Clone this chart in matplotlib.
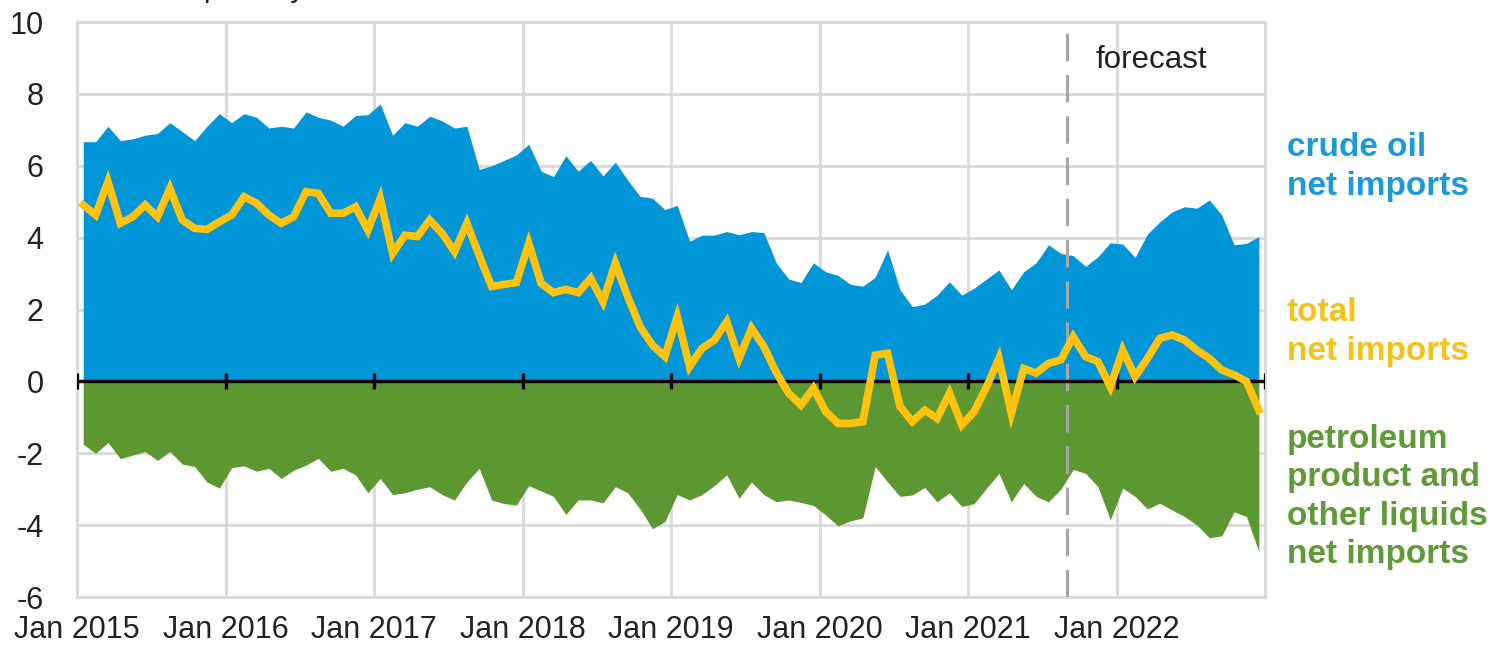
import numpy as np
import matplotlib
matplotlib.use("Agg")
import matplotlib.pyplot as plt

plt.rcParams["font.family"] = ["Liberation Sans", "DejaVu Sans"]
plt.rcParams["axes.unicode_minus"] = False

# monthly values, Jan 2015 - Dec 2022, million barrels per day
crude_net = [
    6.67, 6.67, 7.10, 6.70, 6.75, 6.85, 6.90, 7.20, 6.95, 6.70, 7.10, 7.45,
    7.20, 7.45, 7.35, 7.05, 7.10, 7.05, 7.50, 7.35, 7.27, 7.10, 7.40, 7.42,
    7.72, 6.85, 7.20, 7.10, 7.38, 7.25, 7.05, 7.10, 5.90, 6.00, 6.15, 6.30,
    6.60, 5.85, 5.70, 6.28, 5.85, 6.15, 5.72, 6.10, 5.60, 5.15, 5.10, 4.78,
    4.90, 3.90, 4.07, 4.07, 4.17, 4.08, 4.17, 4.14, 3.30, 2.85, 2.75, 3.30,
    3.05, 2.95, 2.70, 2.65, 2.90, 3.66, 2.55, 2.08, 2.15, 2.40, 2.77, 2.40,
    2.60, 2.85, 3.10, 2.55, 3.05, 3.30, 3.80, 3.56, 3.50, 3.20, 3.47, 3.86,
    3.82, 3.45, 4.10, 4.44, 4.72, 4.86, 4.82, 5.05, 4.63, 3.80, 3.84, 4.03,
]
product_net = [
    -1.75, -2.00, -1.70, -2.15, -2.05, -1.95, -2.20, -1.95, -2.30, -2.37, -2.80, -2.97,
    -2.40, -2.35, -2.50, -2.42, -2.70, -2.47, -2.33, -2.14, -2.50, -2.42, -2.60, -3.10,
    -2.70, -3.15, -3.10, -3.00, -2.93, -3.15, -3.30, -2.80, -2.42, -3.30, -3.40, -3.44,
    -2.90, -3.05, -3.20, -3.70, -3.30, -3.30, -3.38, -2.93, -3.10, -3.55, -4.10, -3.90,
    -3.15, -3.30, -3.15, -2.90, -2.60, -3.25, -2.80, -3.15, -3.35, -3.30, -3.37, -3.45,
    -3.72, -4.02, -3.88, -3.80, -2.37, -2.80, -3.20, -3.16, -2.95, -3.35, -3.10, -3.48,
    -3.40, -2.97, -2.56, -3.35, -2.84, -3.20, -3.35, -3.00, -2.45, -2.56, -2.93, -3.85,
    -2.97, -3.20, -3.55, -3.39, -3.58, -3.76, -4.00, -4.35, -4.30, -3.63, -3.76, -4.74,
]
total_net = [
    4.91, 4.63, 5.56, 4.40, 4.58, 4.91, 4.58, 5.37, 4.49, 4.26, 4.23, 4.44,
    4.63, 5.14, 4.96, 4.63, 4.40, 4.58, 5.28, 5.23, 4.68, 4.68, 4.86, 4.21,
    5.09, 3.56, 4.07, 4.03, 4.49, 4.12, 3.61, 4.40, 3.50, 2.64, 2.70, 2.75,
    3.84, 2.73, 2.47, 2.56, 2.47, 2.87, 2.22, 3.29, 2.36, 1.52, 1.01, 0.69,
    1.80, 0.41, 0.92, 1.15, 1.66, 0.64, 1.48, 0.97, 0.25, -0.33, -0.66, -0.19,
    -0.84, -1.17, -1.17, -1.12, 0.73, 0.78, -0.70, -1.12, -0.80, -1.03, -0.33, -1.21,
    -0.84, -0.15, 0.64, -0.89, 0.36, 0.23, 0.50, 0.60, 1.24, 0.69, 0.55, -0.15,
    0.87, 0.13, 0.64, 1.20, 1.29, 1.15, 0.87, 0.64, 0.32, 0.18, 0.00, -0.80,
]
year_labels = ["Jan 2015", "Jan 2016", "Jan 2017", "Jan 2018",
               "Jan 2019", "Jan 2020", "Jan 2021", "Jan 2022"]
forecast_start = 80  # months after Jan 2015

BLUE = "#0096D7"
GREEN = "#5D9732"
GOLD = "#FFC20E"
GRID = "#D9D9D9"

x = np.arange(len(crude_net)) + 0.5
year_ticks = np.arange(0, 97, 12)

fig = plt.figure(figsize=(14.99, 6.48), dpi=100)
ax = fig.add_axes([0.0514, 0.0787, 0.7925, 0.8873])

ax.fill_between(x, 0, crude_net, color=BLUE, lw=0, zorder=2)
ax.fill_between(x, product_net, 0, color=GREEN, lw=0, zorder=2)
ax.axvline(forecast_start, color="#A6A6A6", lw=2.2, dashes=(9, 4.5), zorder=3)
ax.axhline(0, color="black", lw=2.4, zorder=4)
ax.vlines(year_ticks, -0.22, 0.22, color="black", lw=2.4, zorder=4)
ax.plot(x, total_net, color=GOLD, lw=5.5, solid_joinstyle="miter", zorder=5)

ax.set_xlim(0, 96)
ax.set_ylim(-6, 10)
ax.set_xticks(year_ticks[:-1])
ax.set_xticklabels(year_labels)
ax.set_yticks(np.arange(-6, 11, 2))
ax.tick_params(axis="both", length=0, labelsize=22, colors="#222222")
ax.tick_params(axis="x", pad=13)
ax.tick_params(axis="y", pad=24)
ax.grid(True, color=GRID, lw=2, zorder=0)
ax.set_axisbelow(True)
for sp in ax.spines.values():
    sp.set_color(GRID)
    sp.set_linewidth(2)

ax.text(82.3, 8.95, "forecast", fontsize=22.5, color="#222222", va="center", ha="left", zorder=6)

lab = dict(fontsize=24, fontweight="bold", ha="left", va="center", linespacing=1.3,
           transform=fig.transFigure)
fig.text(1287 / 1499, 1 - 167 / 648, "crude oil\nnet imports", color="#1B9AD6", **lab)
fig.text(1287 / 1499, 1 - 332 / 648, "total\nnet imports", color="#F5C21B", **lab)
fig.text(1287 / 1499, 1 - 497 / 648, "petroleum\nproduct and\nother liquids\nnet imports",
         color="#5E9A35", **lab)

# axis title sits mostly above the top edge in the source image
fig.text(8 / 1499, 1 + 4 / 648, "million barrels per day", fontsize=22, color="#222222",
         ha="left", va="baseline")

fig.savefig("out.png", dpi=100)
